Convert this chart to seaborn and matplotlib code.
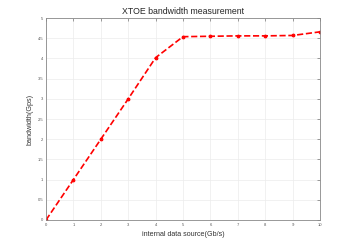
import matplotlib
matplotlib.use('Agg')
import matplotlib.pyplot as plt
import seaborn as sns
import pandas as pd
import numpy as np

# data
source_rate = [0, 1, 2, 3, 4, 5, 6, 7, 8, 9, 10]
bandwidth = [0, 1.0, 2.0, 3.0, 4.02, 4.54, 4.55, 4.56, 4.56, 4.57, 4.66]

df = pd.DataFrame({'source': source_rate, 'bw': bandwidth})

sns.set_style('white')
plt.rcParams['font.family'] = ['Liberation Sans', 'DejaVu Sans']

fig = plt.figure(figsize=(3.54, 2.48), dpi=100)
ax = fig.add_axes([0.130, 0.113, 0.774, 0.814])

sns.lineplot(data=df, x='source', y='bw', ax=ax, color='red', linestyle='--',
             linewidth=1.2, marker='.', markersize=4, markeredgecolor='red')

ax.set_xlim(0, 10)
ax.set_ylim(0, 5)
ax.set_xticks(np.arange(0, 11, 1))
ax.set_yticks(np.arange(0, 5.5, 0.5))
ax.set_yticklabels(['0', '0.5', '1', '1.5', '2', '2.5', '3', '3.5', '4', '4.5', '5'])
ax.grid(True, color='#ececec', linewidth=0.5)
ax.tick_params(axis='both', labelsize=3, length=2, width=0.4, colors='#555555',
               direction='in', top=True, right=True, pad=2)
for s in ax.spines.values():
    s.set_color('#888888')
    s.set_linewidth(0.6)

ax.set_title('XTOE bandwidth measurement', fontsize=6.3, pad=3)
ax.set_xlabel('internal data source(Gb/s)', fontsize=5.1, labelpad=3, color='#333333')
ax.set_ylabel('bandwidth(Gps)', fontsize=5.2, labelpad=3, color='#333333')

fig.savefig('out.png', dpi=100)
